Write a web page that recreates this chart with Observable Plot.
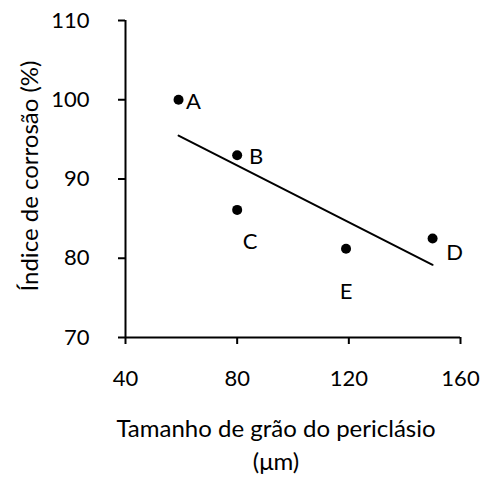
<!DOCTYPE html>
<html>
<head>
<meta charset="utf-8">
<script src="https://cdn.jsdelivr.net/npm/d3@7"></script>
<script src="https://cdn.jsdelivr.net/npm/@observablehq/plot@0.6"></script>
<style>
  html, body { margin: 0; padding: 0; background: #fff; }
  svg { display: block; }
</style>
</head>
<body>
<div id="chart"></div>
<script>
const labels = ["A", "B", "C", "E", "D"];
const grainSize = [59, 80, 80, 119, 150];
const corrosion = [100, 93, 86.1, 81.2, 82.5];
const xTicks = [40, 80, 120, 160];
const yTicks = [70, 80, 90, 100, 110];
const xTitle = "Tamanho de grão do periclásio\n(μm)";
const yTitle = "Índice de corrosão (%)";

const data = labels.map((l, i) => ({label: l, x: grainSize[i], y: corrosion[i]}));

const font = "Lato, 'Open Sans', sans-serif";
const labelOffsets = {A: [15, 2], B: [19, 2], C: [13, 32], E: [0, 43], D: [22, 15]};

const marks = [
  Plot.axisX({ticks: xTicks, tickSize: 7, tickPadding: 26, strokeWidth: 2, fontSize: 22, label: null, tickFormat: d => String(d)}),
  Plot.axisY({ticks: yTicks, tickSize: 7, tickPadding: 29, strokeWidth: 2, fontSize: 22, label: null, tickFormat: d => String(d)}),
  Plot.ruleX([40], {stroke: "black", strokeWidth: 2}),
  Plot.ruleY([70], {stroke: "black", strokeWidth: 2}),
  Plot.linearRegressionY(data, {x: "x", y: "y", ci: 0, stroke: "black", strokeWidth: 2}),
  Plot.dot(data, {x: "x", y: "y", r: 5, fill: "black", stroke: null}),
  ...labels.map(l => Plot.text(data.filter(d => d.label === l), {
    x: "x", y: "y", text: "label", fontSize: 22, fill: "black",
    dx: labelOffsets[l][0], dy: labelOffsets[l][1]
  })),
  Plot.text([xTitle], {frameAnchor: "bottom", dx: -17, dy: 76, lineAnchor: "top", lineHeight: 1.38, fontSize: 24, fill: "black"}),
  Plot.text([yTitle], {frameAnchor: "left", textAnchor: "middle", dx: -95, dy: -3, rotate: -90, fontSize: 24, fill: "black"})
];

const chart = Plot.plot({
  width: 482,
  height: 479,
  marginLeft: 125,
  marginRight: 22,
  marginTop: 20,
  marginBottom: 142,
  style: {fontFamily: font, color: "black", background: "white"},
  x: {domain: [40, 160]},
  y: {domain: [70, 110]},
  marks
});
document.getElementById("chart").appendChild(chart);
</script>
</body>
</html>
